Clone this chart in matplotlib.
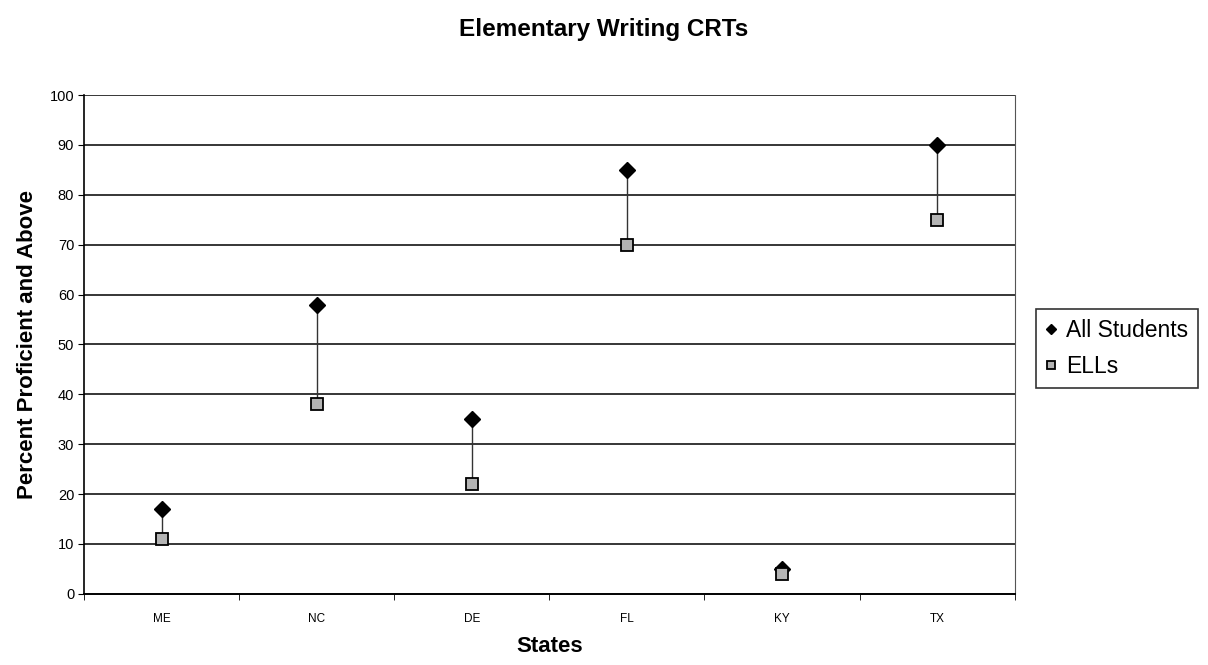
import numpy as np
import matplotlib
matplotlib.use('Agg')
import matplotlib.pyplot as plt

plt.rcParams['font.family'] = ['Liberation Sans', 'DejaVu Sans']

states = ['ME', 'NC', 'DE', 'FL', 'KY', 'TX']
all_students = [17, 58, 35, 85, 5, 90]
ells = [11, 38, 22, 70, 4, 75]

fig = plt.figure(figsize=(12.08, 6.65), dpi=100)
ax = fig.add_axes([0.0695, 0.107, 0.7705, 0.750])

x = np.arange(len(states))

# gridlines
for y in range(10, 101, 10):
    ax.axhline(y, color='black', linewidth=1.1, zorder=1)

# high-low lines between the two series
ax.vlines(x, ells, all_students, color='#333333', linewidth=1.0, zorder=2)

ax.plot(x, all_students, linestyle='none', marker='D', markersize=8,
        color='black', label='All Students', zorder=3)
ax.plot(x, ells, linestyle='none', marker='s', markersize=9,
        markerfacecolor='#b4b4b4', markeredgecolor='black', markeredgewidth=1.3,
        label='ELLs', zorder=4)

ax.set_xlim(-0.5, len(states) - 0.5)
ax.set_ylim(0, 100)
ax.set_yticks(range(0, 101, 10))
ax.set_xticks(x)
ax.set_xticklabels(states, fontsize=8.5)
ax.set_xticks(np.arange(-0.5, len(states), 1.0), minor=True)
ax.tick_params(axis='x', which='major', length=0, pad=14)
ax.tick_params(axis='x', which='minor', length=4, direction='out', color='black')
ax.tick_params(axis='y', labelsize=10.5, length=4, direction='out', pad=3)

ax.spines['top'].set_visible(False)
ax.spines['right'].set_linestyle((0, (1, 1)))
ax.spines['right'].set_color('#555555')
ax.spines['left'].set_linewidth(1.2)
ax.spines['bottom'].set_linewidth(1.4)

ax.set_xlabel('States', fontsize=16, fontweight='bold', labelpad=8)
ax.set_ylabel('Percent Proficient and Above', fontsize=16, fontweight='bold', labelpad=8)
fig.text(0.5, 0.956, 'Elementary Writing CRTs', fontsize=17.5, fontweight='bold',
         ha='center', va='center')

leg = fig.legend(loc='center left', bbox_to_anchor=(0.858, 0.476), fontsize=16.5,
                 frameon=True, fancybox=False, edgecolor='black', handlelength=0.5,
                 handletextpad=0.4, borderpad=0.4, labelspacing=0.6, markerscale=0.7,
                 borderaxespad=0)
leg.get_frame().set_linewidth(1.2)

fig.savefig('out.png', dpi=100)
